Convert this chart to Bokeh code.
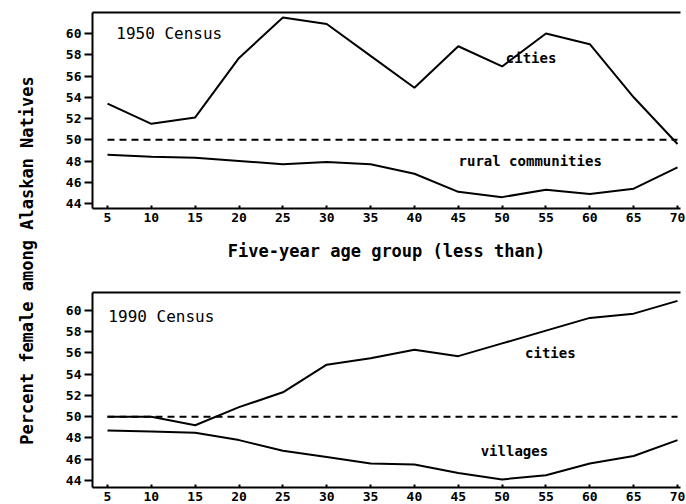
from bokeh.plotting import figure
from bokeh.models import Range1d, LinearAxis, FixedTicker, Label
from bokeh.layouts import row, column
from bokeh.embed import file_html
from bokeh.resources import INLINE
import math

# ---- data ----
age = [5, 10, 15, 20, 25, 30, 35, 40, 45, 50, 55, 60, 65, 70]
cities_1950 = [53.4, 51.5, 52.1, 57.7, 61.5, 60.9, 57.9, 54.9, 58.8, 56.9, 60.0, 59.0, 54.0, 49.6]
rural_1950 = [48.6, 48.4, 48.3, 48.0, 47.7, 47.9, 47.7, 46.8, 45.1, 44.6, 45.3, 44.9, 45.4, 47.4]
cities_1990 = [50.0, 50.0, 49.2, 50.9, 52.3, 54.9, 55.5, 56.3, 55.7, 56.9, 58.1, 59.3, 59.7, 60.9]
villages_1990 = [48.7, 48.6, 48.5, 47.8, 46.8, 46.2, 45.6, 45.5, 44.7, 44.1, 44.5, 45.6, 46.3, 47.8]
parity = [50, 50]
parity_x = [5, 70]
y_ticks = [44, 46, 48, 50, 52, 54, 56, 58, 60]
x_ticks = age

MONO = "DejaVu Sans Mono"


def panel(height, border_top, border_bottom, yr, xlabel):
    p = figure(width=638, height=height, output_backend="svg", toolbar_location=None,
               x_range=Range1d(3.29, 70.34), y_range=Range1d(*yr),
               min_border_left=44, min_border_right=6,
               min_border_top=border_top, min_border_bottom=border_bottom)
    p.outline_line_color = None
    p.xgrid.visible = False
    p.ygrid.visible = False
    p.background_fill_color = "white"
    p.border_fill_color = "white"
    for ax in (p.xaxis[0], p.yaxis[0]):
        ax.axis_line_width = 2
        ax.axis_line_color = "black"
        ax.major_tick_line_color = "black"
        ax.major_tick_line_width = 2
        ax.minor_tick_line_color = None
        ax.major_label_text_font = MONO
        ax.major_label_text_font_style = "bold"
        ax.major_label_text_font_size = "13px"
        ax.major_label_text_color = "black"
    p.xaxis.ticker = FixedTicker(ticks=x_ticks)
    p.yaxis.ticker = FixedTicker(ticks=y_ticks)
    p.xaxis.major_tick_in = 3
    p.xaxis.major_tick_out = 0
    p.xaxis.major_label_standoff = 4
    p.yaxis.major_tick_in = 0
    p.yaxis.major_tick_out = 8
    p.yaxis.major_label_standoff = 3
    if xlabel:
        p.xaxis.axis_label = xlabel
        p.xaxis.axis_label_text_font = MONO
        p.xaxis.axis_label_text_font_style = "bold"
        p.xaxis.axis_label_text_font_size = "17px"
        p.xaxis.axis_label_text_color = "black"
        p.xaxis.axis_label_standoff = 16
    top = LinearAxis(major_tick_line_color=None, minor_tick_line_color=None,
                     major_label_text_font_size="0px", axis_line_width=2,
                     major_label_standoff=0, ticker=FixedTicker(ticks=[]))
    p.add_layout(top, "above")
    p.line(parity_x, parity, line_color="black", line_width=2, line_dash="7 5")
    return p


def note(p, x, y, text, size, style, align):
    p.add_layout(Label(x=x, y=y, text=text, text_font=MONO, text_font_size=size,
                       text_font_style=style, text_color="black",
                       text_align=align, text_baseline="middle"))


top = panel(280, 12, 72, (43.53, 61.98), "Five-year age group (less than)")
top.line(age, cities_1950, line_color="black", line_width=2)
top.line(age, rural_1950, line_color="black", line_width=2)
note(top, 6.0, 60.0, "1950 Census", "16px", "normal", "left")
note(top, 53.3, 57.7, "cities", "14px", "bold", "center")
note(top, 53.2, 48.0, "rural communities", "14px", "bold", "center")

bottom = panel(224, 12, 17, (43.34, 61.69), None)
bottom.line(age, cities_1990, line_color="black", line_width=2)
bottom.line(age, villages_1990, line_color="black", line_width=2)
note(bottom, 5.1, 59.4, "1990 Census", "16px", "normal", "left")
note(bottom, 55.5, 55.95, "cities", "14px", "bold", "center")
note(bottom, 51.4, 46.8, "villages", "14px", "bold", "center")

lab = figure(width=48, height=504, output_backend="svg", toolbar_location=None,
             x_range=Range1d(0, 1), y_range=Range1d(0, 1),
             min_border_left=0, min_border_right=0, min_border_top=0, min_border_bottom=0)
lab.outline_line_color = None
lab.axis.visible = False
lab.grid.visible = False
lab.background_fill_color = "white"
lab.border_fill_color = "white"
lab.add_layout(Label(x=26, y=244, x_units="screen", y_units="screen",
                     text="Percent female among Alaskan Natives", angle=math.pi / 2,
                     text_font=MONO, text_font_size="17px", text_font_style="bold",
                     text_color="black", text_align="center", text_baseline="middle"))

layout = row(lab, column(top, bottom))
open("out.html", "w").write(file_html(layout, INLINE))
